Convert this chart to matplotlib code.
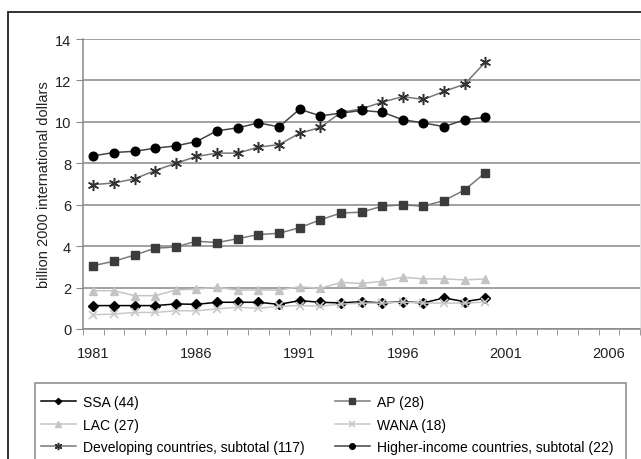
import numpy as np
import matplotlib
matplotlib.use("Agg")
import matplotlib.pyplot as plt
from matplotlib.patches import Rectangle

plt.rcParams["font.family"] = ["Liberation Sans", "DejaVu Sans"]

# Data (billion 2000 international dollars)
years = list(range(1981, 2001))
ssa = [1.13, 1.13, 1.13, 1.13, 1.21, 1.19, 1.29, 1.29, 1.29, 1.19,
       1.37, 1.29, 1.26, 1.32, 1.26, 1.32, 1.26, 1.50, 1.32, 1.48]
ap = [3.06, 3.27, 3.57, 3.90, 3.96, 4.24, 4.17, 4.36, 4.56, 4.62,
      4.89, 5.27, 5.60, 5.64, 5.93, 5.99, 5.93, 6.20, 6.71, 7.55]
lac = [1.85, 1.85, 1.61, 1.61, 1.88, 1.93, 2.01, 1.88, 1.88, 1.88,
       2.04, 1.96, 2.25, 2.20, 2.30, 2.50, 2.42, 2.42, 2.37, 2.42]
wana = [0.69, 0.72, 0.80, 0.80, 0.88, 0.88, 0.97, 1.05, 1.00, 1.10,
        1.13, 1.10, 1.20, 1.25, 1.25, 1.30, 1.25, 1.25, 1.25, 1.30]
developing = [6.97, 7.05, 7.25, 7.65, 8.00, 8.33, 8.49, 8.49, 8.78, 8.90,
              9.45, 9.73, 10.45, 10.63, 10.95, 11.22, 11.08, 11.47, 11.82, 12.88]
higher = [8.36, 8.52, 8.58, 8.73, 8.84, 9.05, 9.57, 9.71, 9.95, 9.76,
          10.61, 10.29, 10.42, 10.55, 10.47, 10.10, 9.95, 9.77, 10.10, 10.22]

labels = ["SSA (44)", "AP (28)", "LAC (27)", "WANA (18)",
          "Developing countries, subtotal (117)",
          "Higher-income countries, subtotal (22)"]
xtick_labels = [1981, 1986, 1991, 1996, 2001, 2006]

W, H = 641, 460
fig = plt.figure(figsize=(W / 100, H / 100), dpi=100)
ax = fig.add_axes([83 / W, 1 - 330 / H, 557 / W, 290 / H])

# outer chart border (left and top visible, rest cropped)
top = 1 - 13 / H
fig.add_artist(Rectangle((8 / W, -0.2), 1.2, top + 0.2,
                         transform=fig.transFigure, fill=False,
                         edgecolor="#222222", lw=1.3))
# legend box (bottom cropped off)
fig.add_artist(Rectangle((35 / W, -0.2), 591 / W, 1 - 384 / H + 0.2,
                         transform=fig.transFigure, fill=False,
                         edgecolor="#888888", lw=1.1))

star = (6, 2, 0)
h_ssa, = ax.plot(years, ssa, color="black", lw=1.1, marker="D", ms=4.8,
                 mfc="black", mec="black")
h_ap, = ax.plot(years, ap, color="#7a7a7a", lw=1.1, marker="s", ms=5.8,
                mfc="#3c3c3c", mec="#3c3c3c")
h_lac, = ax.plot(years, lac, color="#c4c4c4", lw=1.1, marker="^", ms=6.2,
                 mfc="#c4c4c4", mec="#c4c4c4")
h_wana, = ax.plot(years, wana, color="#c8c8c8", lw=1.1, marker="x", ms=6,
                  mew=1.2, mfc="#c8c8c8", mec="#c8c8c8")
h_dev, = ax.plot(years, developing, color="#777777", lw=1.1, marker=star,
                 ms=8, mew=1.1, mec="#333333")
h_hi, = ax.plot(years, higher, color="#444444", lw=1.1, marker="o", ms=6.2,
                mfc="black", mec="black")

ax.set_xlim(1980.5, 2007.5)
ax.set_ylim(0, 14)
ax.set_yticks(np.arange(0, 15, 2))
ax.set_xticks(xtick_labels)
ax.set_xticklabels([str(y) for y in xtick_labels])
ax.set_xticks(np.arange(1980.5, 2008, 1), minor=True)
ax.tick_params(axis="x", which="major", length=0, pad=12, labelsize=10.5,
               colors="#222222")
ax.tick_params(axis="x", which="minor", length=4, color="#888888")
ax.tick_params(axis="y", length=5, color="#888888", labelsize=10.5,
               colors="#222222")
ax.tick_params(axis="y", color="#888888")
ax.yaxis.grid(True, color="#888888", lw=1.1)
ax.set_axisbelow(True)
for s in ["left", "bottom"]:
    ax.spines[s].set_color("#888888")
    ax.spines[s].set_linewidth(1.1)
ax.spines["top"].set_visible(False)
ax.spines["right"].set_color("#e6e6e6")
ax.set_ylabel("billion 2000 international dollars", fontsize=10.5,
              color="#222222", labelpad=3)

# matplotlib fills legend columns first; reorder so rows read like the reference
order = [0, 2, 4, 1, 3, 5]
handles = [h_ssa, h_ap, h_lac, h_wana, h_dev, h_hi]
leg = fig.legend([handles[i] for i in order], [labels[i] for i in order],
                 ncol=2, loc="upper left",
                 bbox_to_anchor=(41 / W, 1 - 396 / H),
                 fontsize=10, frameon=False, markerscale=0.65,
                 handlelength=2.5, handletextpad=0.5, columnspacing=2.2,
                 labelspacing=0.62, borderpad=0, borderaxespad=0)

fig.savefig("out.png", dpi=100)
